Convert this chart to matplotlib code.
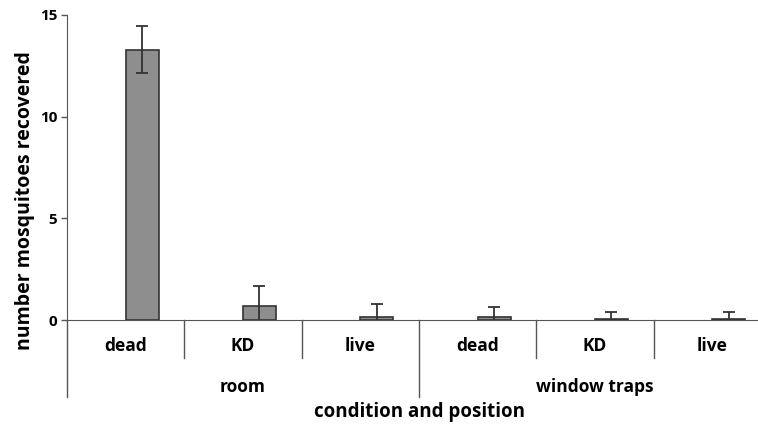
import numpy as np
import matplotlib.pyplot as plt

plt.rcParams['font.family'] = ['Open Sans', 'DejaVu Sans']
plt.rcParams['font.weight'] = 'bold'

# data
conditions = ["dead", "KD", "live", "dead", "KD", "live"]
positions = ["room", "window traps"]
counts = [13.3, 0.7, 0.15, 0.15, 0.07, 0.07]
errors = [1.15, 0.98, 0.64, 0.47, 0.34, 0.34]

fig = plt.figure(figsize=(7.58, 4.29), dpi=100)
ax = fig.add_axes([67 / 758, 1 - 320 / 429, 704 / 758, 305 / 429])

x = np.arange(len(counts)) + 0.5
ax.bar(x + 0.14, counts, width=0.28, color="#8e8e8e", edgecolor="#333333", linewidth=1.2, zorder=2)
ax.errorbar(x + 0.14, counts, yerr=errors, fmt="none", ecolor="#333333", elinewidth=1.3,
            capsize=4, capthick=1.3, zorder=3)

ax.set_xlim(0, 6)
ax.set_ylim(0, 15)
ax.set_yticks([0, 5, 10, 15])
ax.set_xticks(x)
ax.set_xticklabels(conditions, fontsize=12.5, fontweight="bold")
ax.tick_params(axis="x", length=0, pad=12)
ax.tick_params(axis="y", length=4, width=1, color="#555555", labelsize=11, pad=3)
for lab in ax.get_yticklabels():
    lab.set_fontweight("bold")

for s in ["top", "right"]:
    ax.spines[s].set_visible(False)
ax.spines["left"].set_color("#555555")
ax.spines["bottom"].set_color("#555555")

trans = ax.get_xaxis_transform()
for b in [1, 2, 4, 5]:
    ax.plot([b, b], [0, -0.125], color="#555555", lw=1, transform=trans, clip_on=False)
for b in [0, 3, 6]:
    ax.plot([b, b], [0, -0.252], color="#555555", lw=1, transform=trans, clip_on=False)

for i, p in enumerate(positions):
    ax.text(1.5 + 3 * i, -0.22, p, transform=trans, ha="center", va="center",
            fontsize=12.5, fontweight="bold")

ax.text(3.0, -0.3, "condition and position", transform=trans, ha="center", va="center",
        fontsize=13.5, fontweight="bold")
ax.set_ylabel("number mosquitoes recovered", fontsize=14, fontweight="bold", va="center")
ax.yaxis.set_label_coords(-0.06, 0.393)

fig.savefig("out.png", dpi=100)
